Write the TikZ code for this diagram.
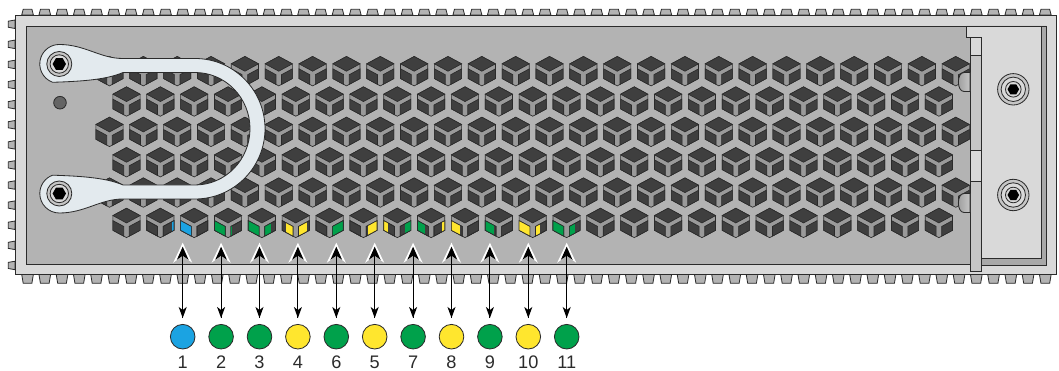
\documentclass[tikz,border=0pt]{standalone}
\usepackage{fontspec}
\setmainfont{Liberation Sans}
\usetikzlibrary{arrows.meta}
\newlength{\px}\setlength{\px}{0.03cm}
\definecolor{edgegray}{HTML}{2B2B2B}
\definecolor{framegray}{HTML}{D9D9D9}
\definecolor{panelgray}{HTML}{B3B3B3}
\definecolor{bandgray}{HTML}{A8A8A8}
\definecolor{stripgray}{HTML}{C6C6C6}
\definecolor{cubedark}{HTML}{3F3F3F}
\definecolor{cubelight}{HTML}{9A9A9A}
\definecolor{handle}{HTML}{E3EAEE}
\definecolor{ledblue}{HTML}{1BA3E2}
\definecolor{ledgreen}{HTML}{00A14B}
\definecolor{ledyellow}{HTML}{FFE62E}
\tikzset{
  edge/.style={draw=edgegray, line width=0.7pt},
  thinedge/.style={draw=edgegray, line width=0.55pt},
  cube/.pic={
    \filldraw[thinedge, fill=cubelight] (0,-14.7) -- (13.6,-7.35) -- (13.6,7.35) -- (0,14.7) -- (-13.6,7.35) -- (-13.6,-7.35) -- cycle;
    \filldraw[thinedge, fill=cubedark] (0,-14.7) -- (13.6,-7.35) -- (0,0) -- (-13.6,-7.35) -- cycle;
    \filldraw[thinedge, fill=cubedark] (-13.6,-2.35) -- (-2.8,3.49) -- (-2.8,13.19) -- (-13.6,7.35) -- cycle;
    \filldraw[thinedge, fill=cubedark] (13.6,-2.35) -- (2.8,3.49) -- (2.8,13.19) -- (13.6,7.35) -- cycle;
  },
  earscrew/.pic={
    \filldraw[edge, fill=stripgray] (0,0) circle [radius=12.5\px];
    \filldraw[edge, fill=framegray] (0,0) circle [radius=9.2\px];
    \fill[black] (0:6.7) -- (60:6.7) -- (120:6.7) -- (180:6.7) -- (240:6.7) -- (300:6.7) -- cycle;
  },
  platescrew/.pic={
    \filldraw[edge, fill=stripgray] (0,0) circle [radius=15.7\px];
    \filldraw[edge, fill=framegray] (0,0) circle [radius=12.2\px];
    \draw[edge] (0,0) circle [radius=7.8\px];
    \fill[black] (0:5.8) -- (60:5.8) -- (120:5.8) -- (180:5.8) -- (240:5.8) -- (300:5.8) -- cycle;
  },
  ledlamp/.style={circle, edge, minimum size=21pt, inner sep=0pt},
  ledlabel/.style={inner sep=0pt, text=edgegray, font=\fontsize{15.5pt}{18pt}\selectfont},
  halo/.style={line width=1pt, shorten <=5.1pt,
    -{Stealth[length=17.1pt, width=16.2pt, inset=6pt, color=white, fill=white]}},
  ledarrow/.style={line width=1pt, shorten <=5.1pt, shorten >=3.4pt,
    {Stealth[length=9.4pt, width=6.8pt, inset=2.6pt]}-{Stealth[length=11.1pt, width=9.8pt, inset=3.4pt]}}
}
\begin{document}
\begin{tikzpicture}[x=0.03cm, y=-0.03cm]
\useasboundingbox (0,0) rectangle (1059,371);
% chassis tabs
\foreach \k in {0,...,59} {
  \filldraw[edge, fill=panelgray] ({21.7+17.25*\k},15) -- ++(1.5,-5.7) -- ++(8.7,0) -- ++(1.5,5.7) -- cycle;
  \filldraw[edge, fill=panelgray] ({21.7+17.25*\k},274.3) -- ++(1.5,9) -- ++(8.7,0) -- ++(1.5,-9) -- cycle;
}
\foreach \k in {0,...,12}
  \filldraw[edge, fill=panelgray] (15,{20+20.1*\k}) -- ++(-6.7,1.2) -- ++(0,6.1) -- ++(6.7,1.2) -- cycle;
\filldraw[edge, fill=framegray] (15,15) rectangle (1056.7,274.3);
\filldraw[edge, fill=panelgray] (26.7,26.7) rectangle (970,264);
% grille
\foreach \j in {0,2,4}
  \foreach \k in {0,...,25}
    \pic at ({109.5+33.85*\k},{71.2+30.35*\j}) {cube};
\foreach \j in {1,3,5}
  \foreach \k in {0,...,24}
    \pic at ({126.5+33.85*\k},{71.2+30.35*\j}) {cube};
% leds behind the grille
\begin{scope}
  \clip \foreach \k [evaluate=\k as \cx using 126.5+33.85*\k] in {1,...,13} {
    ({\cx-13.6},220.6) -- ({\cx-2.8},226.44) -- ({\cx-2.8},236.14) -- ({\cx-13.6},230.3) -- cycle
    ({\cx+13.6},220.6) -- ({\cx+2.8},226.44) -- ({\cx+2.8},236.14) -- ({\cx+13.6},230.3) -- cycle
  };
  \foreach \xa/\xb/\col in {171.5/192/ledblue, 209/232/ledgreen, 243/271/ledgreen, 286/307/ledyellow,
      328/346/ledgreen, 368/387.5/ledyellow, 405/425/ledgreen, 441.5/460/ledyellow,
      479/493.5/ledgreen, 515/540/ledyellow, 550/575/ledgreen}
    \fill[\col] (\xa,205) rectangle (\xb,240);
\end{scope}
\draw[thinedge] \foreach \k [evaluate=\k as \cx using 126.5+33.85*\k] in {1,...,13} {
    ({\cx-13.6},220.6) -- ({\cx-2.8},226.44) -- ({\cx-2.8},236.14) -- ({\cx-13.6},230.3) -- cycle
    ({\cx+13.6},220.6) -- ({\cx+2.8},226.44) -- ({\cx+2.8},236.14) -- ({\cx+13.6},230.3) -- cycle
  };
% right bracket
\filldraw[edge, fill=bandgray] (966.7,26) -- (1046.7,26) -- (1046.7,265) -- (981.7,265) -- (981.7,37.3) -- (966.7,37.3) -- cycle;
\filldraw[edge, fill=framegray] (966.7,26) -- (1041.7,26) -- (1041.7,258.3) -- (981.7,258.3) -- (981.7,37.3) -- (966.7,37.3) -- cycle;
\filldraw[edge, fill=framegray] (970,37.3) rectangle (981.7,55);
\filldraw[edge, fill=stripgray] (970,55) rectangle (981.7,150);
\filldraw[edge, fill=framegray] (970,150) rectangle (981.7,181.7);
\filldraw[edge, fill=stripgray] (970,181.7) rectangle (981.7,271.7);
\foreach \y in {82,203}
  \draw[edge, left color=cubelight, middle color=white, right color=stripgray]
    (970,{\y-9.5}) -- (964,{\y-9.5}) .. controls (956.5,{\y-9.5}) and (956.5,{\y+9.5}) .. (964,{\y+9.5}) -- (970,{\y+9.5}) -- cycle;
\foreach \y in {89.3,195}
  \pic at (1013.3,\y) {platescrew};
% handle
\filldraw[edge, fill=handle]
  (59.3,44.5) .. controls (85,44.5) and (100,58.5) .. (123,58.5) -- (195,58.5)
  arc (-90:90:70 and 70.25) -- (123,199)
  .. controls (100,199) and (85,213) .. (59.3,213)
  arc (90:250:19.5) .. controls (75,176) and (105,177) .. (123,185) -- (195,185)
  arc (90:-90:55 and 56.25) -- (123,72.5)
  .. controls (105,80.5) and (75,81.5) .. (52.6,82.3)
  arc (110:270:19.5) -- cycle;
\foreach \y in {64,193.5}
  \pic at (59.3,\y) {earscrew};
\filldraw[edge, fill=cubedark!80!white] (60,102.7) circle [radius=6.3\px];
% status leds
\foreach \lab/\col [count=\i from 0] in {1/ledblue, 2/ledgreen, 3/ledgreen, 4/ledyellow, 6/ledgreen,
    5/ledyellow, 7/ledgreen, 8/ledyellow, 9/ledgreen, 10/ledyellow, 11/ledgreen} {
  \node[ledlamp, fill=\col] (c\lab) at ({182.7+38.4*\i},336.7) {};
  \node[ledlabel] (n\lab) at ({182.7+38.4*\i},362.5) {\lab};
  \coordinate (t\lab) at ({182.7+38.4*\i},242.7);
  \draw[halo] (c\lab) -- (t\lab);
  \draw[ledarrow] (c\lab) -- (t\lab);
}
\end{tikzpicture}
\end{document}
